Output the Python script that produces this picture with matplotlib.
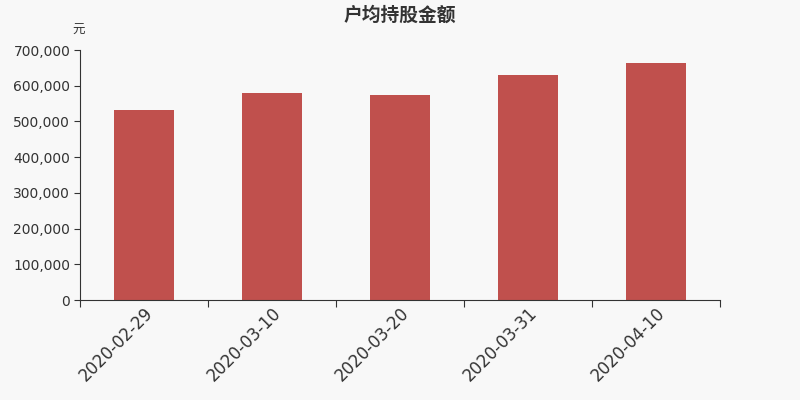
import matplotlib
matplotlib.use("Agg")
import matplotlib.pyplot as plt
from matplotlib.ticker import FuncFormatter

plt.rcParams["font.family"] = ["DejaVu Sans", "Noto Sans CJK SC"]

dates = ["2020-02-29", "2020-03-10", "2020-03-20", "2020-03-31", "2020-04-10"]
amounts = [532000, 578800, 574000, 629000, 663600]

fig = plt.figure(figsize=(8, 4), dpi=100)
fig.patch.set_facecolor("#f8f8f8")
ax = fig.add_axes([0.1, 0.25, 0.8, 0.625])
ax.set_facecolor("#f8f8f8")

x = list(range(len(dates)))
ax.bar(x, amounts, width=0.47, color="#c0504d", zorder=2)

ax.set_xlim(-0.5, len(dates) - 0.5)
ax.set_ylim(0, 700000)
ax.set_yticks(range(0, 700001, 100000))
ax.yaxis.set_major_formatter(FuncFormatter(lambda v, p: f"{int(v):,}"))

# category ticks sit on the boundaries, labels under the bars
ax.set_xticks([i - 0.5 for i in range(len(dates) + 1)])
ax.set_xticklabels([])
ax.set_xticks(x, minor=True)
ax.set_xticklabels(dates, minor=True, rotation=45, ha="right",
                   rotation_mode="anchor", fontsize=12, color="#333333")
ax.tick_params(axis="x", which="minor", length=0, pad=3)
ax.tick_params(axis="x", which="major", length=5, color="#333333")
ax.tick_params(axis="y", length=4, color="#333333", labelsize=10,
               labelcolor="#333333", pad=3)

for side in ["top", "right"]:
    ax.spines[side].set_visible(False)
ax.spines["left"].set_color("#333333")
ax.spines["bottom"].set_color("#333333")

fig.text(0.5, 0.962, "户均持股金额", ha="center", va="center", fontsize=13.5,
         fontweight="bold", color="#333333", family=["Noto Sans CJK SC"])
fig.text(0.098, 0.925, "元", ha="center", va="center", fontsize=9,
         color="#333333", family=["Noto Sans CJK SC"])

fig.savefig("out.png", dpi=100, facecolor=fig.get_facecolor())
